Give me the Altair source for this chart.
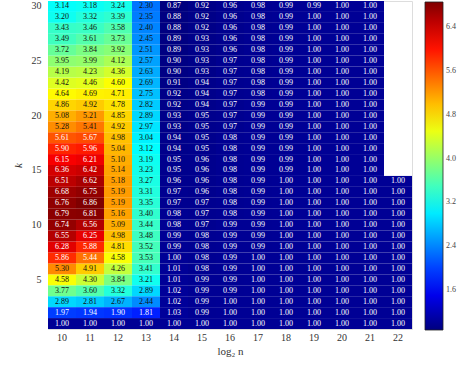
import altair as alt
import pandas as pd

# Ratio table: rows k = 1..30, columns log2 n = 10..22
log2_n = list(range(10, 23))
k_values = list(range(1, 31))

# one list per column, listed from k = 1 up to k = 30 (None = not computed)
col_10 = [1.00, 1.97, 2.89, 3.77, 4.58, 5.30, 5.86, 6.28, 6.55, 6.74, 6.79, 6.76, 6.68, 6.51, 6.36,
          6.15, 5.90, 5.61, 5.28, 5.08, 4.86, 4.64, 4.42, 4.19, 3.95, 3.72, 3.49, 3.43, 3.20, 3.14]
col_11 = [1.00, 1.94, 2.81, 3.60, 4.30, 4.91, 5.44, 5.88, 6.25, 6.56, 6.81, 6.86, 6.75, 6.62, 6.42,
          6.21, 5.96, 5.67, 5.41, 5.21, 4.92, 4.69, 4.46, 4.23, 3.99, 3.84, 3.61, 3.46, 3.32, 3.18]
col_12 = [1.00, 1.90, 2.67, 3.32, 3.84, 4.26, 4.58, 4.81, 4.98, 5.09, 5.16, 5.19, 5.19, 5.18, 5.14,
          5.10, 5.04, 4.98, 4.92, 4.85, 4.78, 4.71, 4.60, 4.36, 4.12, 3.92, 3.73, 3.58, 3.39, 3.24]
col_13 = [1.00, 1.81, 2.44, 2.89, 3.21, 3.41, 3.53, 3.52, 3.48, 3.44, 3.40, 3.35, 3.31, 3.27, 3.23,
          3.19, 3.12, 3.04, 2.97, 2.89, 2.82, 2.75, 2.69, 2.63, 2.57, 2.51, 2.45, 2.40, 2.35, 2.30]
col_14 = [1.00, 1.03, 1.02, 1.02, 1.01, 1.01, 1.00, 0.99, 0.99, 0.98, 0.98, 0.97, 0.97, 0.96, 0.95,
          0.95, 0.94, 0.94, 0.93, 0.93, 0.92, 0.92, 0.91, 0.90, 0.90, 0.89, 0.89, 0.88, 0.88, 0.87]
col_15 = [1.00, 0.99, 0.99, 0.99, 0.99, 0.98, 0.98, 0.98, 0.98, 0.97, 0.97, 0.97, 0.96, 0.96, 0.96,
          0.96, 0.95, 0.95, 0.95, 0.95, 0.94, 0.94, 0.94, 0.93, 0.93, 0.93, 0.93, 0.92, 0.92, 0.92]
col_16 = [1.00, 1.00, 1.00, 0.99, 0.99, 0.99, 0.99, 0.99, 0.99, 0.99, 0.98, 0.98, 0.98, 0.98, 0.98,
          0.98, 0.98, 0.98, 0.97, 0.97, 0.97, 0.97, 0.97, 0.97, 0.97, 0.96, 0.96, 0.96, 0.96, 0.96]
col_17 = [1.00, 1.00, 1.00, 1.00, 1.00, 1.00, 1.00, 0.99, 0.99, 0.99, 0.99, 0.99, 0.99, 0.99, 0.99,
          0.99, 0.99, 0.99, 0.99, 0.99, 0.99, 0.98, 0.98, 0.98, 0.98, 0.98, 0.98, 0.98, 0.98, 0.98]
col_18 = [1.00, 1.00, 1.00, 1.00, 1.00, 1.00, 1.00, 1.00, 1.00, 1.00, 1.00, 1.00, 1.00, 1.00, 0.99,
          0.99, 0.99, 0.99, 0.99, 0.99, 0.99, 0.99, 0.99, 0.99, 0.99, 0.99, 0.99, 0.99, 0.99, 0.99]
col_19 = [1.00, 1.00, 1.00, 1.00, 1.00, 1.00, 1.00, 1.00, 1.00, 1.00, 1.00, 1.00, 1.00, 1.00, 1.00,
          1.00, 1.00, 1.00, 1.00, 1.00, 1.00, 1.00, 1.00, 1.00, 1.00, 1.00, 1.00, 1.00, 1.00, 0.99]
col_20 = [1.00] * 30
col_21 = [1.00] * 30
col_22 = [1.00] * 14 + [None] * 16

columns = [col_10, col_11, col_12, col_13, col_14, col_15, col_16,
           col_17, col_18, col_19, col_20, col_21, col_22]

colorbar_ticks = [1.6, 2.4, 3.2, 4.0, 4.8, 5.6, 6.4]

rows = []
for n, col in zip(log2_n, columns):
    for k, v in zip(k_values, col):
        if v is not None:
            rows.append({"n": n, "k": k, "v": v})
df = pd.DataFrame(rows)

# jet colour map
jet = ["#00007f", "#0000ff", "#007fff", "#00ffff", "#7fff7f",
       "#ffff00", "#ff7f00", "#ff0000", "#7f0000"]

FONT = "Liberation Serif"

x_enc = alt.X("n:O", sort=log2_n, scale=alt.Scale(domain=log2_n, paddingInner=0, paddingOuter=0),
              axis=alt.Axis(title="log₂ n", labelAngle=0, ticks=False, domain=False,
                            labelFont=FONT, labelFontSize=10, labelColor="#333333",
                            labelPadding=3, titleFont=FONT, titleFontSize=11,
                            titleFontWeight="normal", titleColor="#333333", titlePadding=3))
y_enc = alt.Y("k:O", sort="descending", scale=alt.Scale(domain=k_values[::-1], paddingInner=0, paddingOuter=0),
              axis=alt.Axis(title="k", ticks=False, domain=False,
                            labelExpr="datum.value % 5 == 0 ? datum.value : ''",
                            labelFont=FONT, labelFontSize=10, labelColor="#333333",
                            labelPadding=7, titleFont=FONT, titleFontSize=11,
                            titleFontStyle="italic", titleFontWeight="normal",
                            titleColor="#333333", titlePadding=8))

cells = alt.Chart(df).mark_rect().encode(
    x=x_enc,
    y=y_enc,
    color=alt.Color("v:Q",
                    scale=alt.Scale(domain=[0.87, 6.86], range=jet, interpolate="rgb"),
                    legend=alt.Legend(orient="none", legendX=377, legendY=1,
                                      direction="vertical", title=None,
                                      gradientLength=328, gradientThickness=18,
                                      gradientStrokeColor="#222222", gradientStrokeWidth=0.8,
                                      values=colorbar_ticks, format=".1f",
                                      labelFont=FONT, labelFontSize=8, labelColor="#444444",
                                      labelOffset=3)),
)

labels = alt.Chart(df).mark_text(font=FONT, fontSize=8).encode(
    x=alt.X("n:O", sort=log2_n),
    y=alt.Y("k:O", sort="descending"),
    text=alt.Text("v:Q", format=".2f"),
    color=alt.condition("datum.v < 2.1 || datum.v > 5.42",
                        alt.value("#ffffff"), alt.value("#111111")),
)

chart = (
    alt.layer(cells, labels)
    .properties(width=364, height=328, autosize="none",
                padding={"left": 48, "top": 1, "right": 63, "bottom": 52})
    .configure_view(stroke="#222222", strokeWidth=1)
    .configure(background="white")
)

chart.save("out.html", embed_options={"renderer": "svg", "actions": False})
